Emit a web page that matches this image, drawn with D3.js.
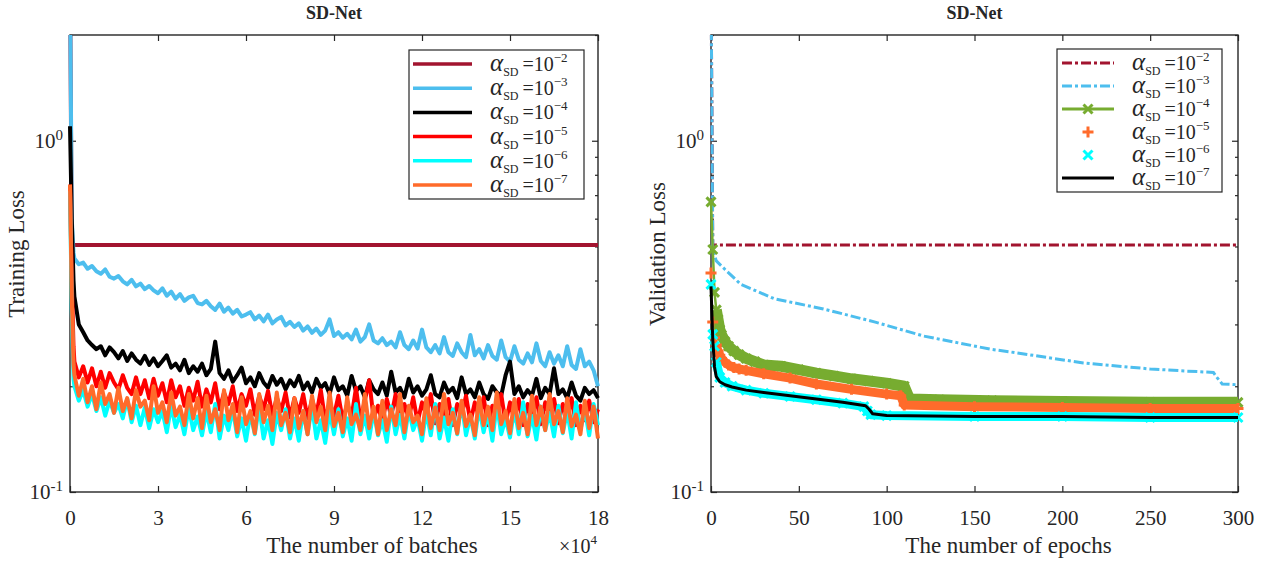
<!DOCTYPE html>
<html>
<head>
<meta charset="utf-8">
<script src="https://cdn.jsdelivr.net/npm/d3@7"></script>
<style>
body { margin: 0; background: #fff; }
text { font-family: "Liberation Serif", "Times New Roman", serif; fill: #262626; }
</style>
</head>
<body>
<div id="chart-area"></div>
<script>
/*
*    SD-Net training / validation loss
*/

// ---- data ----
var exps = ["2", "3", "4", "5", "6", "7"]
var batchTicks = [0, 3, 6, 9, 12, 15, 18]
var epochTicks = [0, 50, 100, 150, 200, 250, 300]
var majorY = [0.1, 1]
var minorY = [0.2, 0.3, 0.4, 0.5, 0.6, 0.7, 0.8, 0.9, 2]

// batches (x10^4): three early samples then every 0.15
var batchX = [0, 0.06, 0.12].concat(d3.range(1, 121).map(i => i * 0.15))

var trainA2x = [0, 0.06, 18]
var trainA2 = [3, 0.505, 0.505]

var trainA3 = [3, 0.6, 0.48,
  0.462, 0.445, 0.45, 0.432, 0.44, 0.425, 0.418, 0.43, 0.41, 0.405,
  0.412, 0.398, 0.39, 0.402, 0.385, 0.392, 0.378, 0.386, 0.375, 0.368,
  0.38, 0.362, 0.372, 0.355, 0.366, 0.35, 0.358, 0.362, 0.345, 0.342,
  0.35, 0.338, 0.33, 0.344, 0.326, 0.335, 0.322, 0.33, 0.316, 0.32,
  0.325, 0.31, 0.318, 0.306, 0.32, 0.302, 0.31, 0.315, 0.298, 0.305,
  0.295, 0.302, 0.288, 0.296, 0.284, 0.292, 0.28, 0.288, 0.31, 0.278,
  0.285, 0.275, 0.282, 0.272, 0.29, 0.268, 0.276, 0.3, 0.27, 0.265,
  0.274, 0.262, 0.268, 0.258, 0.285, 0.262, 0.255, 0.27, 0.256, 0.29,
  0.258, 0.25, 0.262, 0.248, 0.276, 0.25, 0.244, 0.265, 0.25, 0.242,
  0.28, 0.245, 0.255, 0.24, 0.262, 0.244, 0.238, 0.27, 0.242, 0.235,
  0.26, 0.238, 0.232, 0.248, 0.234, 0.265, 0.236, 0.228, 0.25, 0.232,
  0.245, 0.228, 0.26, 0.23, 0.224, 0.255, 0.228, 0.235, 0.222, 0.2]

var trainA4 = [1.1, 0.6, 0.4,
  0.36, 0.3, 0.285, 0.27, 0.262, 0.255, 0.26, 0.245, 0.258, 0.25,
  0.24, 0.252, 0.236, 0.248, 0.238, 0.232, 0.244, 0.23, 0.24, 0.228,
  0.236, 0.245, 0.226, 0.232, 0.222, 0.238, 0.218, 0.228, 0.22, 0.232,
  0.215, 0.224, 0.268, 0.218, 0.21, 0.222, 0.206, 0.215, 0.226, 0.204,
  0.212, 0.2, 0.218, 0.205, 0.198, 0.214, 0.202, 0.21, 0.196, 0.208,
  0.2, 0.214, 0.196, 0.205, 0.192, 0.21, 0.198, 0.204, 0.19, 0.212,
  0.195, 0.2, 0.188, 0.214, 0.194, 0.2, 0.186, 0.208, 0.196, 0.19,
  0.205, 0.188, 0.22, 0.192, 0.198, 0.186, 0.21, 0.192, 0.2, 0.188,
  0.196, 0.215, 0.19, 0.186, 0.205, 0.192, 0.198, 0.185, 0.212, 0.19,
  0.196, 0.186, 0.205, 0.19, 0.184, 0.2, 0.192, 0.188, 0.215, 0.235,
  0.19, 0.2, 0.186, 0.195, 0.188, 0.21, 0.185, 0.198, 0.19, 0.225,
  0.19, 0.196, 0.185, 0.205, 0.188, 0.182, 0.198, 0.19, 0.195, 0.185]

var trainA5 = [0.75, 0.4, 0.26,
  0.235, 0.212, 0.228, 0.205, 0.225, 0.2, 0.22, 0.198, 0.218, 0.205,
  0.196, 0.215, 0.198, 0.19, 0.212, 0.19, 0.208, 0.185, 0.21, 0.188,
  0.204, 0.18, 0.208, 0.186, 0.2, 0.176, 0.198, 0.182, 0.206, 0.175,
  0.196, 0.18, 0.204, 0.172, 0.192, 0.178, 0.2, 0.17, 0.19, 0.176,
  0.196, 0.166, 0.188, 0.172, 0.194, 0.165, 0.186, 0.17, 0.192, 0.163,
  0.185, 0.168, 0.19, 0.162, 0.184, 0.166, 0.195, 0.16, 0.18, 0.165,
  0.188, 0.16, 0.178, 0.164, 0.198, 0.16, 0.182, 0.208, 0.162, 0.176,
  0.158, 0.184, 0.164, 0.19, 0.157, 0.178, 0.162, 0.186, 0.158, 0.18,
  0.165, 0.19, 0.157, 0.178, 0.162, 0.184, 0.155, 0.178, 0.165, 0.188,
  0.158, 0.18, 0.162, 0.186, 0.155, 0.176, 0.165, 0.19, 0.157, 0.18,
  0.16, 0.184, 0.155, 0.178, 0.162, 0.186, 0.156, 0.18, 0.165, 0.184,
  0.157, 0.178, 0.162, 0.185, 0.155, 0.176, 0.16, 0.182, 0.158, 0.172]

var trainA6 = [0.72, 0.33, 0.21,
  0.2, 0.182, 0.195, 0.175, 0.19, 0.17, 0.186, 0.165, 0.182, 0.168,
  0.178, 0.162, 0.184, 0.158, 0.176, 0.155, 0.174, 0.152, 0.172, 0.158,
  0.17, 0.148, 0.176, 0.153, 0.166, 0.146, 0.174, 0.15, 0.164, 0.145,
  0.17, 0.148, 0.178, 0.142, 0.165, 0.15, 0.172, 0.144, 0.162, 0.14,
  0.168, 0.146, 0.175, 0.142, 0.16, 0.137, 0.168, 0.15, 0.172, 0.142,
  0.162, 0.14, 0.17, 0.146, 0.176, 0.142, 0.16, 0.138, 0.17, 0.146,
  0.172, 0.144, 0.162, 0.14, 0.178, 0.146, 0.165, 0.142, 0.17, 0.145,
  0.16, 0.139, 0.175, 0.146, 0.166, 0.142, 0.172, 0.15, 0.162, 0.14,
  0.17, 0.145, 0.178, 0.142, 0.163, 0.14, 0.172, 0.146, 0.18, 0.145,
  0.165, 0.142, 0.175, 0.148, 0.168, 0.14, 0.178, 0.146, 0.162, 0.143,
  0.172, 0.146, 0.18, 0.144, 0.165, 0.141, 0.175, 0.15, 0.168, 0.144,
  0.176, 0.147, 0.17, 0.142, 0.18, 0.15, 0.172, 0.145, 0.178, 0.155]

var trainA7 = [0.75, 0.36, 0.23,
  0.215, 0.188, 0.21, 0.18, 0.2, 0.172, 0.205, 0.178, 0.19, 0.168,
  0.198, 0.17, 0.185, 0.162, 0.195, 0.175, 0.182, 0.16, 0.2, 0.168,
  0.18, 0.158, 0.192, 0.165, 0.175, 0.155, 0.19, 0.162, 0.185, 0.152,
  0.188, 0.158, 0.172, 0.15, 0.195, 0.16, 0.178, 0.148, 0.186, 0.156,
  0.17, 0.147, 0.19, 0.158, 0.176, 0.15, 0.192, 0.155, 0.168, 0.148,
  0.185, 0.152, 0.17, 0.146, 0.188, 0.158, 0.175, 0.15, 0.192, 0.154,
  0.168, 0.148, 0.186, 0.156, 0.166, 0.15, 0.19, 0.152, 0.175, 0.146,
  0.182, 0.15, 0.172, 0.155, 0.19, 0.148, 0.176, 0.158, 0.165, 0.146,
  0.185, 0.152, 0.174, 0.15, 0.19, 0.156, 0.168, 0.147, 0.182, 0.154,
  0.166, 0.145, 0.186, 0.155, 0.175, 0.15, 0.192, 0.156, 0.17, 0.147,
  0.184, 0.152, 0.168, 0.146, 0.188, 0.155, 0.175, 0.15, 0.19, 0.156,
  0.17, 0.148, 0.185, 0.154, 0.166, 0.146, 0.182, 0.152, 0.175, 0.142]

// validation (epochs)
var valA2x = [0, 1, 300]
var valA2 = [3, 0.505, 0.505]
var valA3x = [0, 1, 3, 8, 17, 36, 64, 93, 121, 159, 174, 212, 250, 270, 286, 288, 291, 300]
var valA3 = [3, 0.49, 0.455, 0.43, 0.39, 0.355, 0.332, 0.305, 0.278, 0.255, 0.249, 0.233, 0.224, 0.221, 0.219, 0.212, 0.203, 0.202]
var valA4x = [0, 1, 2, 3, 4, 5, 6, 8, 10, 13, 16, 20, 25, 30, 40, 50, 60, 70, 80, 90, 100, 110, 113, 130, 160, 200, 250, 300]
var valA4 = [0.67, 0.49, 0.37, 0.33, 0.31, 0.29, 0.28, 0.268, 0.26, 0.252, 0.246, 0.24, 0.235, 0.23, 0.228, 0.223, 0.218, 0.214, 0.21, 0.207, 0.204, 0.2, 0.184, 0.183, 0.182, 0.181, 0.18, 0.18]
var valA5x = [0, 1, 2, 3, 4, 5, 6, 8, 10, 13, 16, 20, 30, 45, 60, 80, 100, 108, 110, 150, 200, 250, 300]
var valA5 = [0.42, 0.305, 0.275, 0.262, 0.252, 0.245, 0.24, 0.234, 0.23, 0.226, 0.224, 0.222, 0.217, 0.211, 0.203, 0.196, 0.19, 0.188, 0.177, 0.175, 0.174, 0.173, 0.173]
var valA6x = [0, 1, 2, 3, 5, 8, 12, 20, 30, 45, 60, 75, 87, 89, 91, 100, 150, 200, 250, 300]
var valA6 = [0.39, 0.281, 0.26, 0.234, 0.212, 0.205, 0.2, 0.195, 0.191, 0.187, 0.183, 0.179, 0.175, 0.17, 0.166, 0.165, 0.164, 0.164, 0.163, 0.163]
var valA7x = [0, 1, 2, 3, 5, 8, 12, 20, 30, 45, 60, 75, 88, 90, 92, 100, 150, 200, 250, 300]
var valA7 = [0.385, 0.272, 0.227, 0.213, 0.206, 0.202, 0.199, 0.195, 0.192, 0.188, 0.184, 0.18, 0.176, 0.172, 0.167, 0.165, 0.164, 0.164, 0.163, 0.163]

var colors = ["#A2142F", "#4DBEEE", "#000000", "#FF0000", "#00FFFF", "#FF6B2B"]
var green = "#77AC30"

// ---- layout ----
var cw = 1275
var ch = 562
var yTop = 35
var yBot = 492

var svg = d3.select("#chart-area").append("svg")
    .attr("width", cw)
    .attr("height", ch)

var y = d3.scaleLog().domain([0.1, 2]).range([yBot, yTop])
var xL = d3.scaleLinear().domain([0, 18]).range([70, 598])
var xR = d3.scaleLinear().domain([0, 300]).range([711, 1238])

function supLabel(sel, exp) {
    sel.text(null)
    sel.append("tspan").text("10")
    sel.append("tspan").attr("font-size", "15px").attr("dy", "-0.55em").text(exp)
}

function axes(x, xTicks, title, xLabel, yLabel, labelShift) {
    var l = x.range()[0], r = x.range()[1]

    svg.append("rect")
        .attr("x", l).attr("y", yTop)
        .attr("width", r - l).attr("height", yBot - yTop)
        .attr("fill", "none").attr("stroke", "#262626").attr("stroke-width", 1.4)

    var gb = svg.append("g").attr("transform", `translate(0, ${yBot})`)
        .call(d3.axisBottom(x).tickValues(xTicks).tickSizeInner(-6).tickSizeOuter(0).tickPadding(18))
    gb.selectAll("text").attr("font-size", "21px")
    svg.append("g").attr("transform", `translate(0, ${yTop})`)
        .call(d3.axisTop(x).tickValues(xTicks).tickSizeInner(-6).tickSizeOuter(0).tickFormat(""))

    var gl = svg.append("g").attr("transform", `translate(${l}, 0)`)
        .call(d3.axisLeft(y).tickValues(majorY).tickSizeInner(-6).tickSizeOuter(0).tickPadding(7))
    gl.selectAll("text").attr("font-size", "21px")
        .each(function(d) { supLabel(d3.select(this), d === 1 ? "0" : "-1") })
    svg.append("g").attr("transform", `translate(${l}, 0)`)
        .call(d3.axisLeft(y).tickValues(minorY).tickSizeInner(-3).tickSizeOuter(0).tickFormat(""))
    svg.append("g").attr("transform", `translate(${r}, 0)`)
        .call(d3.axisRight(y).tickValues(majorY).tickSizeInner(-6).tickSizeOuter(0).tickFormat(""))
    svg.append("g").attr("transform", `translate(${r}, 0)`)
        .call(d3.axisRight(y).tickValues(minorY).tickSizeInner(-3).tickSizeOuter(0).tickFormat(""))

    svg.selectAll(".domain").remove()
    svg.selectAll(".tick line").attr("stroke", "#262626").attr("stroke-width", 1.2)

    svg.append("text")
        .attr("x", (l + r) / 2).attr("y", 19)
        .attr("text-anchor", "middle")
        .attr("font-size", "18px").attr("font-weight", "bold")
        .text(title)

    svg.append("text")
        .attr("x", (l + r) / 2 + labelShift).attr("y", 553)
        .attr("text-anchor", "middle")
        .attr("font-size", "23px")
        .text(xLabel)

    svg.append("text")
        .attr("transform", `translate(${l - 46}, 254) rotate(-90)`)
        .attr("text-anchor", "middle")
        .attr("font-size", "23px")
        .text(yLabel)

    var clipId = "clip" + Math.round(l)
    svg.append("clipPath").attr("id", clipId)
        .append("rect")
        .attr("x", l - 10).attr("y", yTop)
        .attr("width", r - l + 20).attr("height", yBot - yTop)
    return svg.append("g").attr("clip-path", `url(#${clipId})`)
}

// ---- left panel: training loss ----
var gL = axes(xL, batchTicks, "SD-Net", "The number of batches", "Training Loss", 38)

svg.append("text")
    .attr("x", 578).attr("y", 553)
    .attr("text-anchor", "middle")
    .attr("font-size", "20px")
    .call(t => {
        t.append("tspan").text("\u00d710")
        t.append("tspan").attr("font-size", "13px").attr("dy", "-0.7em").text("4")
    })

var lineL = d3.line().x(d => xL(d[0])).y(d => y(d[1]))

var trainSeries = [
    d3.zip(trainA2x, trainA2),
    d3.zip(batchX, trainA3),
    d3.zip(batchX, trainA4),
    d3.zip(batchX, trainA5),
    d3.zip(batchX, trainA6),
    d3.zip(batchX, trainA7)
]

gL.selectAll("path.train")
    .data(trainSeries)
    .enter()
    .append("path")
    .attr("class", "train")
    .attr("d", lineL)
    .attr("fill", "none")
    .attr("stroke", (d, i) => colors[i])
    .attr("stroke-width", 4)
    .attr("stroke-linejoin", "round")

// ---- right panel: validation loss ----
var gR = axes(xR, epochTicks, "SD-Net", "The number of epochs", "Validation Loss", 34)
var lineR = d3.line().x(d => xR(d[0])).y(d => y(d[1]))

var crossPath = "M-4.5,-4.5L4.5,4.5M-4.5,4.5L4.5,-4.5"
var plusPath = "M-5.5,0L5.5,0M0,-5.5L0,5.5"

var vA2 = d3.zip(valA2x, valA2)
var vA3 = d3.zip(valA3x, valA3)
var vA4 = d3.zip(valA4x, valA4)
var vA5 = d3.zip(valA5x, valA5)
var vA6 = d3.zip(valA6x, valA6)
var vA7 = d3.zip(valA7x, valA7)

gR.append("path").attr("d", lineR(vA2))
    .attr("fill", "none").attr("stroke", colors[0]).attr("stroke-width", 3)
    .attr("stroke-dasharray", "10,3,3,3")
gR.append("path").attr("d", lineR(vA3))
    .attr("fill", "none").attr("stroke", colors[1]).attr("stroke-width", 3)
    .attr("stroke-dasharray", "10,3,3,3")

function band(data, color, width) {
    gR.append("path").attr("d", lineR(data.filter(d => d[0] >= 3)))
        .attr("fill", "none").attr("stroke", color).attr("stroke-width", width)
        .attr("stroke-linejoin", "round")
}
function markers(data, color, shape) {
    gR.selectAll(null).data(data).enter()
        .append("path")
        .attr("d", shape)
        .attr("transform", d => `translate(${xR(d[0])}, ${y(d[1])})`)
        .attr("fill", "none").attr("stroke", color).attr("stroke-width", 3)
}

gR.append("path").attr("d", lineR(vA4))
    .attr("fill", "none").attr("stroke", green).attr("stroke-width", 2.5)
band(vA4, green, 11)
markers(vA4, green, crossPath)
band(vA5, colors[5], 9)
markers(vA5, colors[5], plusPath)
band(vA6, colors[4], 9)
markers(vA6, colors[4], crossPath)
gR.append("path").attr("d", lineR(vA7))
    .attr("fill", "none").attr("stroke", "#000").attr("stroke-width", 3)
    .attr("stroke-linejoin", "round")

// ---- legends ----
function legendText(g, tx, ty, e) {
    var t = g.append("text").attr("x", tx).attr("y", ty).attr("font-size", "20px")
    t.append("tspan").attr("font-style", "italic").attr("font-size", "25px").text("\u03b1")
    t.append("tspan").attr("font-size", "12px").attr("dy", 5).text("SD")
    t.append("tspan").attr("dy", -5).attr("dx", 4).text("=10")
    t.append("tspan").attr("font-size", "13px").attr("dy", -9).text("\u2212" + e)
}

var legL = svg.append("g")
legL.append("rect").attr("x", 409).attr("y", 50).attr("width", 175).attr("height", 149)
    .attr("fill", "#fff").attr("stroke", "#262626").attr("stroke-width", 1.2)
exps.forEach((e, i) => {
    var ly = 64 + i * 24.2
    legL.append("line").attr("x1", 413).attr("x2", 472).attr("y1", ly).attr("y2", ly)
        .attr("stroke", colors[i]).attr("stroke-width", 3.5)
    legendText(legL, 490, ly + 7, e)
})

var legR = svg.append("g")
legR.append("rect").attr("x", 1057).attr("y", 49).attr("width", 165).attr("height", 143)
    .attr("fill", "#fff").attr("stroke", "#262626").attr("stroke-width", 1.2)
var legStyles = [
    {c: colors[0], dash: "10,3,3,3", line: true},
    {c: colors[1], dash: "10,3,3,3", line: true},
    {c: green, line: true, m: crossPath},
    {c: colors[5], line: false, m: plusPath},
    {c: colors[4], line: false, m: crossPath},
    {c: "#000", line: true}
]
exps.forEach((e, i) => {
    var ly = 63 + i * 23
    var s = legStyles[i]
    if (s.line) {
        legR.append("line").attr("x1", 1062).attr("x2", 1114).attr("y1", ly).attr("y2", ly)
            .attr("stroke", s.c).attr("stroke-width", 3)
            .attr("stroke-dasharray", s.dash || null)
    }
    if (s.m) {
        legR.append("path").attr("d", s.m)
            .attr("transform", `translate(1088, ${ly})`)
            .attr("fill", "none").attr("stroke", s.c).attr("stroke-width", 3)
    }
    legendText(legR, 1132, ly + 7, e)
})
</script>
</body>
</html>
